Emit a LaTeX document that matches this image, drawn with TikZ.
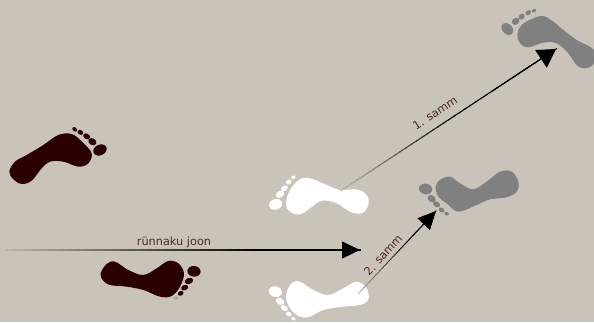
\documentclass[tikz,border=0pt]{standalone}
\usepackage{fontspec}
\setmainfont{DejaVu Sans}
\usetikzlibrary{arrows.meta,calc}
\definecolor{bgc}{HTML}{C9C3B9}
\definecolor{darkfoot}{HTML}{2A0000}
\definecolor{grayfoot}{HTML}{808080}
\definecolor{labelc}{HTML}{4A2A2A}
\newcommand{\toe}[5]{\fill[rotate around={#5:(#1,#2)}] (#1,#2) ellipse [x radius=#3,y radius=#4];}
\newcommand{\gradarrow}[5]{%
  \foreach \i in {0,...,39}{%
    \pgfmathsetmacro{\ta}{\i/40}%
    \pgfmathsetmacro{\tb}{(\i+1.15)/40}%
    \pgfmathsetmacro{\p}{min(100,8+92*\ta/#3)}%
    \draw[line width=#4, color=black!\p!bgc] ($(#1)!\ta!(#2)$) -- ($(#1)!\tb!(#2)$);
  }%
  \draw[line width=#4, -{Triangle[length=18pt,width=#5]}] ($(#1)!0.7!(#2)$) -- (#2);
}
\tikzset{
  footview/.style={x=0.3333pt,y=-0.3333pt},
  steplabel/.style={font=\fontsize{11.3}{13}\selectfont, text=labelc, inner sep=0pt}
}
\begin{document}
\begin{tikzpicture}[x=1pt,y=-1pt]
\useasboundingbox (0,0) rectangle (594,322);
\fill[bgc] (0,0) rectangle (594,322);
% dark foot, upper
\begin{scope}[shift={(0,110)},footview,darkfoot]
\fill plot[smooth cycle,tension=.6] coordinates {(28,185)(45,155)(80,135)(130,105)(175,75)(215,72)(248,97)(275,130)(265,160)(235,170)(190,155)(150,155)(125,175)(95,212)(65,222)(40,208)};
\toe{300}{120}{21}{16}{25}\toe{277}{95}{13}{10}{-30}\toe{260}{79}{11}{8}{-30}\toe{241}{67}{9}{7}{-30}\toe{224}{58}{8}{6}{-40}
\end{scope}
% dark foot, lower
\begin{scope}[shift={(0,110)},footview,darkfoot]
\fill plot[smooth cycle,tension=.6] coordinates {(302,490)(320,462)(345,455)(385,480)(430,495)(470,475)(505,453)(535,460)(552,490)(540,530)(515,558)(480,560)(430,540)(380,530)(330,525)(308,510)};
\toe{582}{484}{20}{16}{-5}\toe{567}{513}{13}{9}{20}\toe{554}{533}{11}{8}{25}\toe{542}{550}{9}{7}{25}
\fill[gray!70] (528,564) ellipse [x radius=8,y radius=5];
\end{scope}
% white foot, upper
\begin{scope}[shift={(250,160)},footview,white]
\fill plot[smooth cycle,tension=.6] coordinates {(108,130)(120,90)(150,58)(180,55)(230,75)(270,90)(320,88)(350,105)(355,135)(335,160)(300,155)(260,130)(215,122)(180,145)(150,163)(120,155)};
\toe{77}{133}{20}{16}{15}\toe{90}{103}{13}{10}{30}\toe{103}{85}{11}{8}{30}\toe{116}{66}{9}{7}{30}\toe{130}{52}{7}{5}{20}
\end{scope}
% white foot, lower
\begin{scope}[shift={(250,160)},footview,white]
\fill plot[smooth cycle,tension=.6] coordinates {(108,405)(125,370)(150,365)(190,390)(235,405)(280,385)(320,365)(350,385)(355,420)(330,435)(280,440)(220,450)(180,470)(150,470)(120,445)};
\toe{76}{395}{20}{16}{-15}\toe{90}{424}{13}{10}{-30}\toe{103}{444}{11}{8}{-30}\toe{116}{462}{9}{7}{-30}\toe{130}{476}{7}{5}{-20}
\end{scope}
% gray foot, middle
\begin{scope}[shift={(250,160)},footview,grayfoot]
\fill plot[smooth cycle,tension=.6] coordinates {(557,80)(570,60)(600,50)(630,70)(670,88)(710,65)(750,35)(785,35)(805,65)(800,95)(770,112)(720,118)(680,135)(625,155)(590,130)(565,110)};
\toe{527}{87}{20}{16}{-10}\toe{545}{116}{13}{10}{-30}\toe{560}{133}{11}{8}{-30}\toe{575}{150}{9}{7}{-30}\toe{590}{161}{7}{5}{-20}
\end{scope}
% gray foot, top
\begin{scope}[shift={(400,0)},footview,grayfoot]
\fill plot[smooth cycle,tension=.6] coordinates {(352,105)(365,75)(400,55)(430,48)(460,65)(490,90)(530,120)(582,150)(582,190)(555,205)(530,195)(505,160)(470,130)(430,128)(385,142)(360,130)};
\toe{322}{87}{20}{15}{-45}\toe{347}{64}{12}{10}{40}\toe{365}{50}{10}{8}{40}\toe{385}{38}{9}{7}{40}\toe{402}{32}{7}{5}{30}
\end{scope}
% connectors
\coordinate (attackstart) at (5,250);
\coordinate (attackend) at (360,250);
\coordinate (onestart) at (340.5,191);
\coordinate (oneend) at (556,49);
\coordinate (twostart) at (358,294);
\coordinate (twoend) at (436,211);
\gradarrow{attackstart}{attackend}{0.7}{1.2pt}{17pt}
\gradarrow{onestart}{oneend}{0.5}{1.1pt}{21pt}
\gradarrow{twostart}{twoend}{0.6}{0.9pt}{17pt}
% labels
\node[steplabel] (attacklabel) at (174,242.5) {rünnaku joon};
\node[steplabel,rotate=33] (onelabel) at (435,113) {1. samm};
\node[steplabel,rotate=48] (twolabel) at (383,255) {2. samm};
\end{tikzpicture}
\end{document}
